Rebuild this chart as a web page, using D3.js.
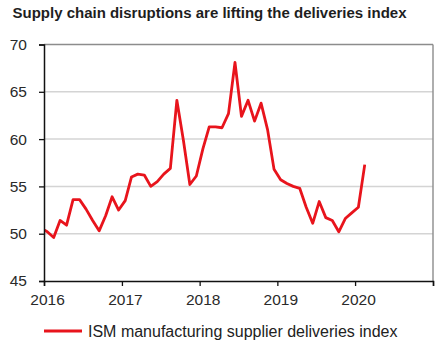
<!DOCTYPE html>
<html>
<head>
<meta charset="utf-8">
<script src="https://cdn.jsdelivr.net/npm/d3@7"></script>
<style>
  html, body { margin: 0; padding: 0; background: #fff; }
  svg { display: block; font-family: "Liberation Sans", Arial, sans-serif; }
</style>
</head>
<body>
<svg id="chart" width="445" height="345"></svg>
<script>
// ISM manufacturing supplier deliveries index, monthly, Dec 2015 – Feb 2020
const firstMonth = "2015-12";
const deliveries = [
  50.6,
  50.2, 49.6, 51.4, 50.9, 53.6, 53.6, 52.6, 51.4, 50.3, 51.9, 53.9, 52.5,
  53.5, 56.0, 56.3, 56.2, 55.0, 55.5, 56.3, 56.9, 64.1, 59.9, 55.2, 56.1,
  59.0, 61.3, 61.3, 61.2, 62.7, 68.1, 62.4, 64.1, 61.9, 63.8, 61.0, 56.8,
  55.7, 55.3, 55.0, 54.8, 52.8, 51.1, 53.4, 51.7, 51.4, 50.2, 51.6, 52.2,
  52.8, 57.3
];
const yearTicks = [2016, 2017, 2018, 2019, 2020, 2021];
const yearLabels = ["2016", "2017", "2018", "2019", "2020"];
const valueTicks = [45, 50, 55, 60, 65, 70];
const titleText = "Supply chain disruptions are lifting the deliveries index";
const seriesName = "ISM manufacturing supplier deliveries index";

const svg = d3.select("#chart");
const plot = { left: 44, right: 433, top: 44.5, bottom: 281 };

// each observation sits in the middle of its month
const start = d3.utcParse("%Y-%m")(firstMonth);
const points = deliveries.map((v, i) => {
  const m0 = d3.utcMonth.offset(start, i);
  const m1 = d3.utcMonth.offset(start, i + 1);
  return { date: new Date((+m0 + +m1) / 2), value: v };
});

const x = d3.scaleUtc()
  .domain([new Date(Date.UTC(yearTicks[0], 0, 1)), new Date(Date.UTC(yearTicks[yearTicks.length - 1], 0, 1))])
  .range([plot.left, plot.right]);
const y = d3.scaleLinear()
  .domain([valueTicks[0], valueTicks[valueTicks.length - 1]])
  .range([plot.bottom, plot.top]);

// title
svg.append("text")
  .attr("x", 12.5).attr("y", 18)
  .attr("font-size", 14).attr("font-weight", "bold").attr("fill", "#1e1e1e")
  .attr("textLength", 394).attr("lengthAdjust", "spacingAndGlyphs")
  .text(titleText);

// horizontal gridlines
svg.append("g")
  .selectAll("line")
  .data(valueTicks.slice(1, -1))
  .join("line")
  .attr("x1", plot.left).attr("x2", plot.right)
  .attr("y1", d => y(d)).attr("y2", d => y(d))
  .attr("stroke", "#d4d4d4").attr("stroke-width", 1.5);

// top and right frame
svg.append("line")
  .attr("x1", plot.left).attr("x2", plot.right)
  .attr("y1", y(70)).attr("y2", y(70))
  .attr("stroke", "#8c8c8c").attr("stroke-width", 1.4);
svg.append("line")
  .attr("x1", plot.right).attr("x2", plot.right)
  .attr("y1", plot.top).attr("y2", plot.bottom)
  .attr("stroke", "#8c8c8c").attr("stroke-width", 1.4);

// series line, clipped to the plot area
svg.append("clipPath").attr("id", "plotClip")
  .append("rect")
  .attr("x", plot.left).attr("y", plot.top - 10)
  .attr("width", plot.right - plot.left).attr("height", plot.bottom - plot.top + 10);

const line = d3.line().x(d => x(d.date)).y(d => y(d.value));
svg.append("path")
  .datum(points)
  .attr("clip-path", "url(#plotClip)")
  .attr("fill", "none")
  .attr("stroke", "#e8141c")
  .attr("stroke-width", 2.8)
  .attr("stroke-linejoin", "round")
  .attr("d", line);

// y axis
const yAxis = svg.append("g")
  .attr("transform", `translate(${plot.left},0)`)
  .call(d3.axisLeft(y).tickValues(valueTicks).tickSize(5).tickPadding(12));
yAxis.select(".domain").attr("stroke", "#111").attr("stroke-width", 1.5);
yAxis.selectAll(".tick line").attr("stroke", "#111").attr("stroke-width", 1.3);
yAxis.selectAll(".tick text")
  .attr("font-size", 15.5).attr("fill", "#2a2a2a")
  .attr("font-family", "Liberation Sans, Arial, sans-serif");

// x axis
const xAxis = svg.append("g")
  .attr("transform", `translate(0,${plot.bottom})`)
  .call(d3.axisBottom(x)
    .tickValues(yearTicks.map(yr => new Date(Date.UTC(yr, 0, 1))))
    .tickSize(5).tickPadding(8)
    .tickFormat((d, i) => yearLabels[i] || ""));
xAxis.select(".domain").attr("stroke", "#111").attr("stroke-width", 1.5);
xAxis.selectAll(".tick line").attr("stroke", "#111").attr("stroke-width", 1.3);
xAxis.selectAll(".tick text")
  .attr("font-size", 15.5).attr("fill", "#2a2a2a").attr("dx", 3)
  .attr("font-family", "Liberation Sans, Arial, sans-serif");

// legend
const legend = svg.append("g").attr("transform", "translate(44,331)");
legend.append("line")
  .attr("x1", 0).attr("x2", 38).attr("y1", 0).attr("y2", 0)
  .attr("stroke", "#e8141c").attr("stroke-width", 2.8);
legend.append("text")
  .attr("x", 44).attr("y", 5.5)
  .attr("font-size", 16).attr("fill", "#222")
  .text(seriesName);
</script>
</body>
</html>
